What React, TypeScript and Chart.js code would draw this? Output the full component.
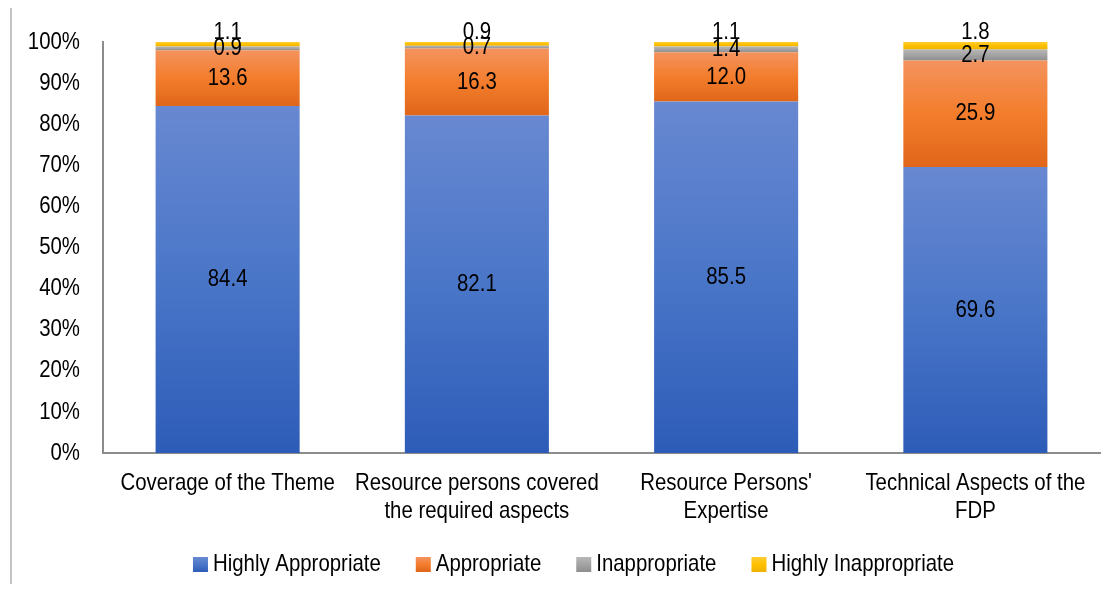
import React, { useEffect, useRef } from "react";
import { Chart, registerables } from "chart.js";

Chart.register(...registerables);

const categories: string[][] = [
  ["Coverage of the Theme"],
  ["Resource persons covered", "the required aspects"],
  ["Resource Persons'", "Expertise"],
  ["Technical Aspects of the", "FDP"],
];
const seriesNames = ["Highly Appropriate", "Appropriate", "Inappropriate", "Highly Inappropriate"];
const highlyAppropriate = [84.4, 82.1, 85.5, 69.6];
const appropriate = [13.6, 16.3, 12.0, 25.9];
const inappropriate = [0.9, 0.7, 1.4, 2.7];
const highlyInappropriate = [1.1, 0.9, 1.1, 1.8];
const yTickValues = [0, 10, 20, 30, 40, 50, 60, 70, 80, 90, 100];

const gradientStops: string[][] = [
  ["#6888d1", "#4a76c8", "#2d5cb8"],
  ["#f4935e", "#f37d2c", "#e0661a"],
  ["#b8b8b8", "#a3a3a3", "#8e8e8e"],
  ["#ffcd33", "#ffc000", "#eeb200"],
];

const FONT = "'Liberation Sans', Arial, sans-serif";
const FS = 24;
const SX = 0.85; // horizontal condensing to mimic a narrow font

// legend layout
const LEGEND_CX = 573.5;
const LEGEND_CY = 564.5;
const LEGEND_BOX = 15;
const LEGEND_BOX_GAP = 5;
const LEGEND_ITEM_GAP = 35;

function patchCtx(ctx: any) {
  if (!ctx || ctx.__narrow) return;
  ctx.__narrow = true;
  const origMeasure = ctx.measureText.bind(ctx);
  const origFill = ctx.fillText.bind(ctx);
  ctx.measureText = (t: string) => {
    const m = origMeasure(t);
    return {
      width: m.width * SX,
      actualBoundingBoxAscent: m.actualBoundingBoxAscent,
      actualBoundingBoxDescent: m.actualBoundingBoxDescent,
      actualBoundingBoxLeft: m.actualBoundingBoxLeft * SX,
      actualBoundingBoxRight: m.actualBoundingBoxRight * SX,
      fontBoundingBoxAscent: m.fontBoundingBoxAscent,
      fontBoundingBoxDescent: m.fontBoundingBoxDescent,
    };
  };
  ctx.fillText = (t: string, x: number, y: number, maxW?: number) => {
    ctx.save();
    ctx.translate(x, y);
    ctx.scale(SX, 1);
    if (maxW !== undefined && maxW !== null) origFill(t, 0, 0, maxW / SX);
    else origFill(t, 0, 0);
    ctx.restore();
  };
}

function makeGradient(dsIndex: number) {
  const stops = gradientStops[dsIndex];
  return (ctx: any) => {
    const chart = ctx.chart;
    const area = chart.chartArea;
    if (!area || ctx.type !== "data" || !chart.scales.y) return stops[1];
    const i = ctx.dataIndex;
    let base = 0;
    for (let d = 0; d < dsIndex; d++) base += chart.data.datasets[d].data[i] as number;
    const top = base + (chart.data.datasets[dsIndex].data[i] as number);
    const y = chart.scales.y;
    const yTop = y.getPixelForValue(top);
    const yBot = y.getPixelForValue(base);
    if (!isFinite(yTop) || !isFinite(yBot) || yTop === yBot) return stops[1];
    const g = chart.ctx.createLinearGradient(0, yTop, 0, yBot);
    g.addColorStop(0, stops[0]);
    g.addColorStop(0.5, stops[1]);
    g.addColorStop(1, stops[2]);
    return g;
  };
}

const dataLabelPlugin = {
  id: "dataLabels",
  afterDatasetsDraw(chart: any) {
    const ctx = chart.ctx;
    ctx.save();
    ctx.font = `${FS}px ${FONT}`;
    ctx.fillStyle = "#000";
    ctx.textAlign = "center";
    ctx.textBaseline = "middle";
    chart.data.datasets.forEach((ds: any, di: number) => {
      const meta = chart.getDatasetMeta(di);
      meta.data.forEach((el: any, i: number) => {
        const v = ds.data[i] as number;
        let y = (el.y + el.base) / 2;
        if (di === 3) y = el.y - 9.5;
        ctx.fillText(v.toFixed(1), el.x, y);
      });
    });
    ctx.restore();
  },
};

const legendPlugin = {
  id: "customLegend",
  afterDraw(chart: any) {
    const ctx = chart.ctx;
    ctx.save();
    ctx.font = `${FS}px ${FONT}`;
    ctx.textAlign = "left";
    ctx.textBaseline = "middle";
    const widths = seriesNames.map((n) => ctx.measureText(n).width);
    const total =
      widths.reduce((a, w) => a + w + LEGEND_BOX + LEGEND_BOX_GAP, 0) + LEGEND_ITEM_GAP * (seriesNames.length - 1);
    let x = LEGEND_CX - total / 2;
    seriesNames.forEach((n, k) => {
      const top = LEGEND_CY - LEGEND_BOX / 2;
      const g = ctx.createLinearGradient(0, top, 0, top + LEGEND_BOX);
      g.addColorStop(0, gradientStops[k][0]);
      g.addColorStop(0.5, gradientStops[k][1]);
      g.addColorStop(1, gradientStops[k][2]);
      ctx.fillStyle = g;
      ctx.fillRect(x, top, LEGEND_BOX, LEGEND_BOX);
      x += LEGEND_BOX + LEGEND_BOX_GAP;
      ctx.fillStyle = "#000";
      ctx.fillText(n, x, LEGEND_CY);
      x += widths[k] + LEGEND_ITEM_GAP;
    });
    ctx.restore();
  },
};

export default function App() {
  const ref = useRef<HTMLCanvasElement>(null);
  useEffect(() => {
    if (!ref.current) return;
    patchCtx(ref.current.getContext("2d"));
    const seriesData = [highlyAppropriate, appropriate, inappropriate, highlyInappropriate];
    const chart = new Chart(ref.current, {
      type: "bar",
      data: {
        labels: categories,
        datasets: seriesData.map((d, k) => ({
          label: seriesNames[k],
          data: d,
          backgroundColor: makeGradient(k),
          borderWidth: 0,
          categoryPercentage: 1,
          barPercentage: 0.578,
        })),
      },
      options: {
        responsive: false,
        animation: false,
        devicePixelRatio: 1,
        layout: { padding: { top: 42, right: 13, left: 0, bottom: 59 } },
        plugins: {
          tooltip: { enabled: false },
          legend: { display: false },
        },
        scales: {
          x: {
            stacked: true,
            grid: { display: false, drawTicks: false },
            border: { display: true, color: "#8c8c8c", width: 2 },
            ticks: {
              font: { family: FONT, size: FS, lineHeight: 1.2 },
              color: "#000",
              padding: 15.5,
              maxRotation: 0,
              autoSkip: false,
            },
            afterFit: (s: any) => {
              s.height = 80;
            },
          },
          y: {
            stacked: true,
            min: 0,
            max: 100,
            afterBuildTicks: (s: any) => {
              s.ticks = yTickValues.map((v) => ({ value: v }));
            },
            grid: { display: false, drawTicks: false },
            border: { display: true, color: "#8c8c8c", width: 2 },
            ticks: {
              font: { family: FONT, size: FS },
              color: "#000",
              padding: 23,
              callback: (v: any) => `${v}%`,
            },
            afterFit: (s: any) => {
              s.width = 103;
            },
          },
        },
      },
      plugins: [dataLabelPlugin, legendPlugin],
    });
    return () => chart.destroy();
  }, []);

  return (
    <div style={{ position: "relative", width: 1113, height: 592, margin: -8, background: "#fff" }}>
      <div style={{ position: "absolute", left: 10, top: 0, width: 2, height: 592, background: "#c4c4c4" }} />
      <canvas ref={ref} width={1113} height={592} style={{ position: "absolute", left: 0, top: 0 }} />
    </div>
  );
}
